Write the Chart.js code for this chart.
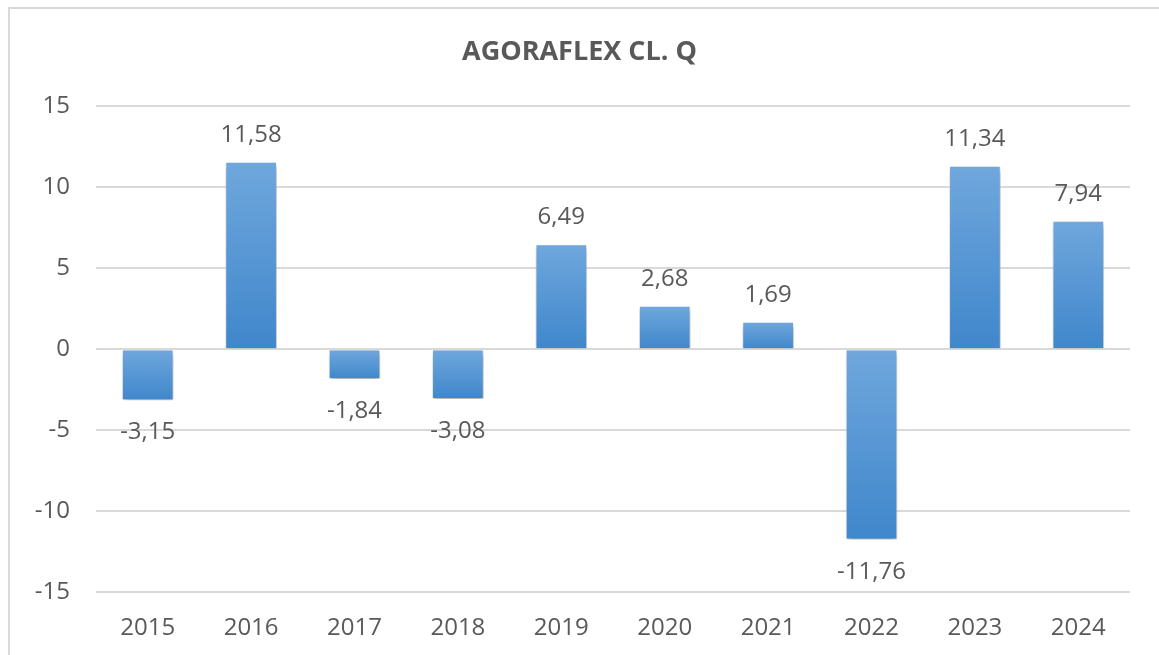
<!DOCTYPE html>
<html>
<head>
<meta charset="utf-8">
<script src="https://cdn.jsdelivr.net/npm/chart.js@4/dist/chart.umd.min.js"></script>
<style>
  html, body { margin: 0; padding: 0; background: #fff; overflow: hidden; }
  #frame { position: absolute; left: 8px; top: 7px; width: 1200px; height: 700px; border: 2px solid #d9d9d9; }
  #wrap { position: absolute; left: 0; top: 0; width: 1159px; height: 655px; }
</style>
</head>
<body>
<div id="frame"></div>
<div id="wrap"><canvas id="returnsChart"></canvas></div>
<script>
const years = ['2015', '2016', '2017', '2018', '2019', '2020', '2021', '2022', '2023', '2024'];
const returns = [-3.15, 11.58, -1.84, -3.08, 6.49, 2.68, 1.69, -11.76, 11.34, 7.94];
const yTicks = [-15, -10, -5, 0, 5, 10, 15];
const chartTitle = 'AGORAFLEX CL. Q';

const textColor = '#595959';
const fontFamily = '"Open Sans", "Liberation Sans", sans-serif';

function fmt(v) {
    return v.toFixed(2).replace('.', ',');
}

function barGradient(context) {
    const chart = context.chart;
    const area = chart.chartArea;
    if (!area) return '#5b9bd5';
    const v = context.raw;
    const y = chart.scales.y;
    const y0 = y.getPixelForValue(Math.max(v, 0));
    const y1 = y.getPixelForValue(Math.min(v, 0));
    if (!isFinite(y0) || !isFinite(y1) || y0 === y1) return '#5b9bd5';
    const g = chart.ctx.createLinearGradient(0, y0, 0, y1);
    g.addColorStop(0, '#70a7dd');
    g.addColorStop(1, '#3f87cb');
    return g;
}

// soft drop shadow under the bars
const barShadow = {
    id: 'barShadow',
    beforeDatasetsDraw(chart) {
        const ctx = chart.ctx;
        ctx.save();
        ctx.shadowColor = 'rgba(0,0,0,0.35)';
        ctx.shadowBlur = 5;
        ctx.shadowOffsetX = 1;
        ctx.shadowOffsetY = 3;
    },
    afterDatasetsDraw(chart) {
        chart.ctx.restore();
    }
};

// value labels above / below each bar
const valueLabels = {
    id: 'valueLabels',
    afterDatasetsDraw(chart) {
        const ctx = chart.ctx;
        const meta = chart.getDatasetMeta(0);
        ctx.save();
        ctx.font = '24px ' + fontFamily;
        ctx.fillStyle = textColor;
        ctx.textAlign = 'center';
        ctx.textBaseline = 'alphabetic';
        meta.data.forEach((bar, i) => {
            const v = returns[i];
            const y = v >= 0 ? bar.y - 20 : bar.y + 39;
            ctx.fillText(fmt(v), bar.x, y);
        });
        ctx.restore();
    }
};

const ctx = document.getElementById('returnsChart').getContext('2d');

new Chart(ctx, {
    type: 'bar',
    data: {
        labels: years,
        datasets: [{
            label: chartTitle,
            data: returns,
            backgroundColor: barGradient,
            borderColor: 'rgba(255,255,255,0.6)',
            borderWidth: 1,
            barPercentage: 0.5,
            categoryPercentage: 1
        }]
    },
    options: {
        responsive: true,
        maintainAspectRatio: false,
        animation: false,
        layout: {
            padding: { left: 0, right: 0, top: 0, bottom: 0 }
        },
        plugins: {
            legend: { display: false },
            tooltip: { enabled: false },
            title: {
                display: true,
                text: chartTitle,
                color: textColor,
                font: { family: fontFamily, size: 27, weight: 'bold' },
                padding: { top: 36, bottom: 38 }
            }
        },
        scales: {
            x: {
                afterFit(scale) { scale.height = 63; },
                grid: { display: false, drawTicks: false },
                border: { display: false },
                ticks: {
                    color: textColor,
                    font: { family: fontFamily, size: 24 },
                    padding: 22
                }
            },
            y: {
                min: -15,
                max: 15,
                afterFit(scale) { scale.width = 96; },
                afterBuildTicks(scale) {
                    scale.ticks = yTicks.map(v => ({ value: v }));
                },
                grid: {
                    color: '#d9d9d9',
                    lineWidth: 2,
                    drawTicks: false
                },
                border: { display: false },
                ticks: {
                    color: textColor,
                    font: { family: fontFamily, size: 24 },
                    padding: 26
                }
            },
            // empty right margin axis so the title stays centred on the page
            yRight: {
                position: 'right',
                min: -15,
                max: 15,
                afterFit(scale) { scale.width = 29; },
                grid: { display: false, drawTicks: false },
                border: { display: false },
                ticks: { display: false }
            }
        }
    },
    plugins: [barShadow, valueLabels]
});
</script>
</body>
</html>
